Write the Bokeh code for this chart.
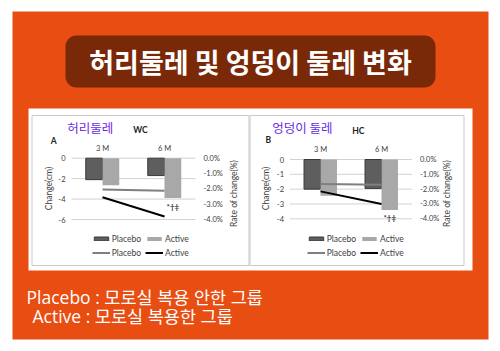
import math
from bokeh.plotting import figure
from bokeh.models import (Range1d, LinearAxis, FixedTicker, Legend, LegendItem,
                          Label, ColumnDataSource)
from bokeh.transform import dodge
from bokeh.core.properties import value
from bokeh.embed import file_html
from bokeh.resources import INLINE

# ---------------- data ----------------
periods = ["3 M", "6 M"]
period_pos = [1, 2]
series = ["Placebo", "Active"]

wc_placebo_cm = [-2.1, -1.7]
wc_active_cm = [-2.65, -3.9]
wc_placebo_rate = [-2.05, -2.12]
wc_active_rate = [-2.55, -3.8]

hc_placebo_cm = [-2.0, -1.95]
hc_active_cm = [-2.45, -3.4]
hc_placebo_rate = [-1.65, -1.7]
hc_active_rate = [-2.15, -3.0]

wc_cm_ticks = [0, -2, -4, -6]
wc_cm_labels = ["0", "-2", "-4", "-6"]
hc_cm_ticks = [0, -1, -2, -3, -4]
hc_cm_labels = ["0", "-1", "-2", "-3", "-4"]
rate_ticks = [0, -1, -2, -3, -4]
rate_labels = ["0.0%", "-1.0%", "-2.0%", "-3.0%", "-4.0%"]
sig_mark = "*\u2020\u2021"

main_title = "허리둘레 및 엉덩이 둘레 변화"
note_lines = ["Placebo : 모로실 복용 안한 그룹", "Active : 모로실 복용한 그룹"]
cm_title = "Change(cm)"
rate_title = "Rate of change(%)"

# ---------------- style ----------------
ORANGE = "#e84d12"
BROWN = "#792908"
PURPLE = "#6a2ae8"
KR = "Noto Sans CJK KR"
LAT = "Lato"
TXT = "#404040"

W, H = 500, 351
p = figure(width=W, height=H, x_range=Range1d(0, W), y_range=Range1d(H, 0),
           min_border=0, toolbar_location=None, output_backend="svg",
           x_axis_type=None, y_axis_type=None, outline_line_color=None,
           background_fill_color="white", border_fill_color="white")
p.grid.visible = False

# ---------------- page decoration (pixel space) ----------------
p.quad(left=12, right=488, top=11, bottom=339, fill_color=ORANGE, line_color=None)
p.quad(left=65, right=435, top=35, bottom=87, fill_color=BROWN, line_color=None,
       border_radius=11)
p.text(x=[250], y=[61], text=[main_title], text_align="center", text_baseline="middle",
       text_font=value(KR), text_font_style="bold", text_font_size="27px",
       text_color="white")
p.quad(left=28, right=472, top=108, bottom=270, fill_color="white", line_color=None)
p.quad(left=[31.5, 249.5], right=[248.5, 463.5], top=[115, 115], bottom=[265, 265],
       fill_color=None, line_color="#c9c9c9", line_width=1)
p.text(x=[26, 32], y=[296, 315], text=note_lines, text_align="left",
       text_baseline="middle", text_font=value(f"Open Sans, {KR}"),
       text_font_size="17.5px", text_color="white")


def lin_range(p0, v0, p1, v1, a, b):
    k = (v1 - v0) / (p1 - p0)
    return Range1d(v0 + (a - p0) * k, v0 + (b - p0) * k)


def style_axis(ax, standoff):
    ax.axis_line_color = None
    ax.major_tick_line_color = None
    ax.minor_tick_line_color = None
    ax.major_tick_out = 0
    ax.major_tick_in = 0
    ax.minor_tick_out = 0
    ax.minor_tick_in = 0
    ax.major_label_standoff = int(standoff)
    ax.major_label_text_font = LAT
    ax.major_label_text_font_size = "7.5px"
    ax.major_label_text_color = TXT


def chart(key, name, abbr, letter, placebo_cm, active_cm, placebo_rate, active_rate,
          cm_ticks, cm_labels, geo):
    xn, yn, rn = key + "x", key + "y", key + "r"
    (xp1, xp2), (cp0, cv0, cp1, cv1), (rp0, rv0, rp1, rv1) = geo["x"], geo["cm"], geo["rate"]
    p.extra_x_ranges[xn] = lin_range(xp1, 1, xp2, 2, 0, W)
    p.extra_y_ranges[yn] = lin_range(cp0, cv0, cp1, cv1, H, 0)
    p.extra_y_ranges[rn] = lin_range(rp0, rv0, rp1, rv1, H, 0)
    x_lo, x_hi = 0.5, 2.5

    # grid lines at the cm ticks
    n = len(cm_ticks)
    p.segment(x0=[x_lo] * n, x1=[x_hi] * n, y0=cm_ticks, y1=cm_ticks,
              x_range_name=xn, y_range_name=yn, line_color="#d2d2d2", line_width=1)

    # axes drawn at the chart edges
    ya = LinearAxis(x_range_name=xn, y_range_name=yn, fixed_location=x_lo,
                    ticker=FixedTicker(ticks=cm_ticks),
                    major_label_overrides=dict(zip(cm_ticks, cm_labels)))
    style_axis(ya, 6)
    p.add_layout(ya, "left")
    ra = LinearAxis(x_range_name=xn, y_range_name=rn, fixed_location=x_hi,
                    ticker=FixedTicker(ticks=rate_ticks),
                    major_label_overrides=dict(zip(rate_ticks, rate_labels)))
    style_axis(ra, geo["rstand"])
    p.add_layout(ra, "right")
    xa = LinearAxis(x_range_name=xn, y_range_name=yn, fixed_location=0,
                    ticker=FixedTicker(ticks=period_pos),
                    major_label_overrides=dict(zip(period_pos, periods)))
    style_axis(xa, geo["tstand"])
    p.add_layout(xa, "above")

    # bars and lines
    src = ColumnDataSource(dict(x=period_pos, placebo=placebo_cm, active=active_cm))
    rb_p = p.vbar(x=dodge("x", -0.135), width=0.27, top=0, bottom="placebo", source=src,
                  x_range_name=xn, y_range_name=yn,
                  fill_color="#5e5e5e", line_color="#3a3a3a")
    rb_a = p.vbar(x=dodge("x", 0.135), width=0.27, top=0, bottom="active", source=src,
                  x_range_name=xn, y_range_name=yn,
                  fill_color="#a8a8a8", line_color=None)
    rl_p = p.line(period_pos, placebo_rate, x_range_name=xn, y_range_name=rn,
                  line_color="#7f7f7f", line_width=2)
    rl_a = p.line(period_pos, active_rate, x_range_name=xn, y_range_name=rn,
                  line_color="black", line_width=2)

    p.add_layout(Label(x=2.135, y=active_cm[-1], x_range_name=xn, y_range_name=yn,
                       y_offset=-8.5, text=sig_mark, text_align="center",
                       text_baseline="middle", text_font=LAT, text_font_size="8px",
                       text_font_style="bold", text_color=TXT))

    items = [LegendItem(label=series[0], renderers=[rb_p]),
             LegendItem(label=series[1], renderers=[rb_a]),
             LegendItem(label=series[0], renderers=[rl_p]),
             LegendItem(label=series[1], renderers=[rl_a])]
    lg = Legend(items=items, orientation="horizontal", location=geo["legend"],
                glyph_width=18, glyph_height=5, label_height=9, label_standoff=2,
                spacing=4, padding=0, margin=0, border_line_color=None,
                background_fill_alpha=0, label_text_font=LAT,
                label_text_font_size="8.5px", label_text_color=TXT)
    if "ncols" in lg.properties():
        lg.ncols = 2
    p.add_layout(lg, "center")

    # titles
    tx, ty = geo["name"]
    p.text(x=[tx], y=[ty], text=[name], text_font=value(KR), text_font_size="12.5px",
           text_color=PURPLE, text_align="left", text_baseline="middle")
    ax_, ay_ = geo["abbr"]
    p.text(x=[ax_], y=[ay_], text=[abbr], text_font=value(LAT), text_font_size="8.5px",
           text_font_style="bold", text_color="#222222", text_align="left",
           text_baseline="middle")
    lx, ly = geo["letter"]
    p.text(x=[lx], y=[ly], text=[letter], text_font=value(LAT), text_font_size="8.5px",
           text_font_style="bold", text_color="#222222", text_align="center",
           text_baseline="middle")
    (cx, cy), (rx, ry) = geo["axis_titles"]
    p.text(x=[cx, rx], y=[cy, ry], text=[cm_title, rate_title], angle=math.pi / 2,
           text_font=value(LAT), text_font_size="8.5px", text_color=TXT,
           text_align="center", text_baseline="middle")


geo_a = dict(x=(102, 164), cm=(157.7, 0, 219.0, -6), rate=(157.7, 0, 219.0, -4),
             rstand=8, tstand=5, legend=(91.7, 93.3),
             name=(66.7, 126.7), abbr=(132.7, 129.3), letter=(53.3, 140),
             axis_titles=((48, 188), (233, 193)))
geo_b = dict(x=(320, 381), cm=(159, 0, 218.3, -4), rate=(159, 0, 218.3, -4),
             rstand=8, tstand=6, legend=(306.7, 93.3),
             name=(271.7, 126.7), abbr=(351.7, 130), letter=(267.7, 139.3),
             axis_titles=((265.7, 188), (446.7, 193)))

chart("a", "허리둘레", "WC", "A", wc_placebo_cm, wc_active_cm, wc_placebo_rate,
      wc_active_rate, wc_cm_ticks, wc_cm_labels, geo_a)
chart("b", "엉덩이 둘레", "HC", "B", hc_placebo_cm, hc_active_cm, hc_placebo_rate,
      hc_active_rate, hc_cm_ticks, hc_cm_labels, geo_b)

open("out.html", "w").write(file_html(p, INLINE))
